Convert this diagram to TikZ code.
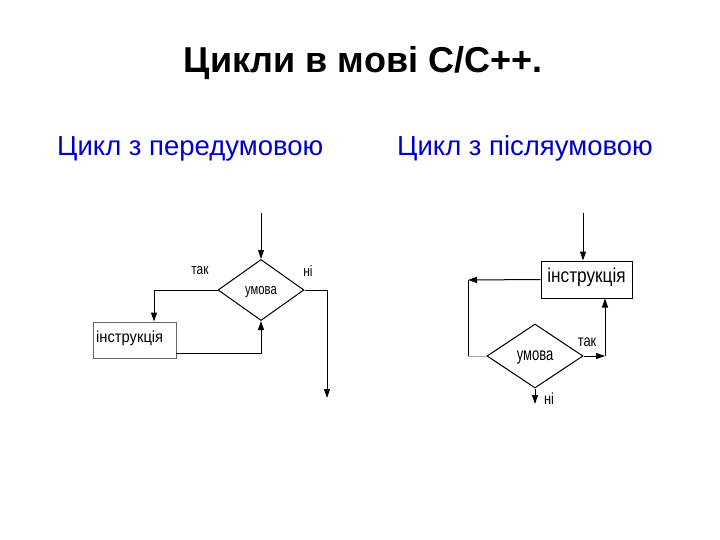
\documentclass[tikz,border=0pt]{standalone}
\usepackage{fontspec}
\setmainfont{Liberation Sans}
\usetikzlibrary{shapes.geometric,arrows.meta}
\definecolor{subblue}{RGB}{0,0,200}
\newcommand{\narrowtxt}[2]{\scalebox{#1}[1]{#2}}
\tikzset{
  ln/.style={line width=1pt,black},
  arr/.style={ln,-{Triangle[length=9pt,width=6pt]}},
  diam/.style={draw,diamond,line width=1pt,inner sep=0pt},
  box/.style={draw,rectangle,line width=1pt,inner sep=0pt},
  lbl/.style={inner sep=0pt,font=\fontsize{15}{16}\selectfont},
  ttl/.style={inner sep=0pt,font=\fontsize{36}{40}\selectfont\bfseries},
  sub/.style={inner sep=0pt,text=subblue,font=\fontsize{27.5}{30}\selectfont}
}
\begin{document}
\begin{tikzpicture}[x=1pt,y=-1pt]
\useasboundingbox[fill=white] (0,0) rectangle (720,540);
% titles
\node[ttl,anchor=base] (title) at (363,73) {Цикли в мові C/C++.};
\node[sub,anchor=base west] (s1) at (57,156) {Цикл з передумовою};
\node[sub,anchor=base west] (s2) at (397,156) {Цикл з післяумовою};
% left diagram
\node[diam,minimum width=86pt,minimum height=61pt,aspect=1.41] (d1) at (261,290) {};
\node[lbl] (u1) at (261,292) {\narrowtxt{0.75}{умова}};
\coordinate (a1) at (261,213);
\draw[arr] (a1) -- (d1.north);
\node[box,draw=gray!80!black,minimum width=83pt,minimum height=36pt] (b1) at (134.5,340) {};
\node[lbl,font=\fontsize{16}{18}\selectfont,anchor=west] (bt1) at (96,338) {\narrowtxt{0.92}{інструкція}};
\coordinate (c1) at (154,290);
\draw[arr] (d1.west) -- (c1) -- (c1 |- b1.north);
\coordinate (r1) at (176,353);
\draw[arr] (r1) -| (d1.south);
\coordinate (e1) at (327,398);
\draw[arr] (d1.east) -| (e1);
\node[lbl] (tak1) at (200,271) {\narrowtxt{0.8}{так}};
\node[lbl] (ni1) at (308,271) {\narrowtxt{0.8}{ні}};
% right diagram
\node[box,minimum width=91pt,minimum height=37pt] (b2) at (586.5,279.5) {};
\node[lbl,font=\fontsize{20}{22}\selectfont] (bt2) at (586.5,277) {\narrowtxt{0.86}{інструкція}};
\node[diam,minimum width=96pt,minimum height=64pt,aspect=1.5] (d2) at (535,356) {};
\node[lbl,font=\fontsize{18}{20}\selectfont] (u2) at (535,358) {\narrowtxt{0.72}{умова}};
\coordinate (a2) at (583,213);
\draw[arr] (a2) -- (a2 |- b2.north);
\coordinate (l2) at (468,280);
\draw[arr] (b2.west) -- (l2);
\coordinate (l2b) at (468,356);
\draw[ln] (l2) -- (l2b);
\draw[ln,gray!70] (l2b) -- (d2.west);
\coordinate (t2) at (605,356);
\draw[arr] (d2.east) -- (t2);
\draw[arr] (t2) -- (t2 |- b2.south);
\coordinate (n2) at (535,404);
\draw[arr] (d2.south) -- (n2);
\node[lbl,font=\fontsize{16}{18}\selectfont] (tak2) at (587,342) {\narrowtxt{0.8}{так}};
\node[lbl,font=\fontsize{16}{18}\selectfont] (ni2) at (549,399) {\narrowtxt{0.8}{ні}};
\end{tikzpicture}
\end{document}
